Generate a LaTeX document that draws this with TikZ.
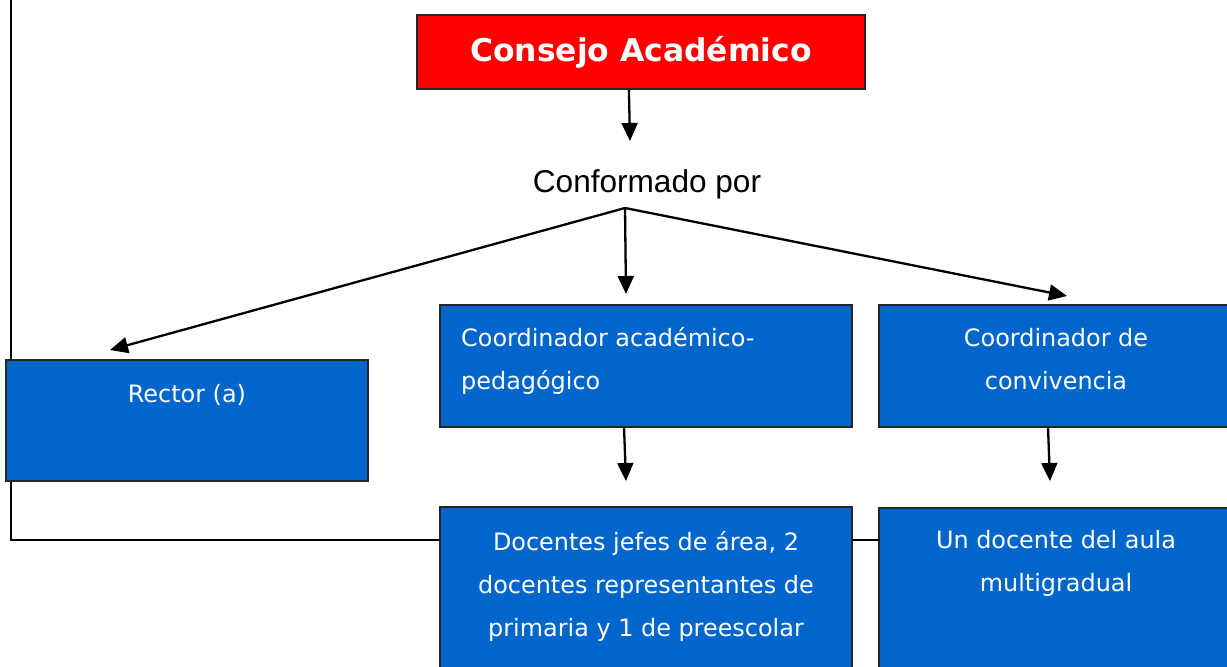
\documentclass[tikz,border=0pt]{standalone}
\usepackage{fontspec}
\setmainfont{DejaVu Sans}
\newfontfamily\arialfont{Liberation Sans}
\usetikzlibrary{arrows.meta}
\definecolor{boxblue}{HTML}{0066CC}
\definecolor{boxred}{HTML}{FF0000}
\begin{document}
\begin{tikzpicture}[x=1bp,y=-1bp,
  ln/.style={line width=2.3bp, draw=black},
  arr/.style={ln, -{Triangle[width=16bp,length=18bp]}},
  box/.style={draw=black!85, line width=1.8bp, fill=boxblue, anchor=north west, inner sep=0pt, outer sep=0pt},
  txt/.style={text=white, font=\fontsize{24}{43}\selectfont, align=center, inner sep=0pt, anchor=base},
  txtl/.style={text=white, font=\fontsize{24}{43}\selectfont, align=left, inner sep=0pt, anchor=base west}]
\clip (0,0) rectangle (1227,667);
\fill[white] (0,0) rectangle (1227,667);
% frame line (behind boxes)
\coordinate (ftop) at (11,-5);
\coordinate (docl) at (440,540);
\draw[ln] (ftop) |- (docl);
% title
\node[draw=black!85, line width=1.8bp, fill=boxred, anchor=north west, minimum width=448bp, minimum height=74bp, inner sep=0pt, text=white, font=\bfseries\fontsize{31.5}{38}\selectfont] (title) at (416,14) {Consejo Académico};
\node[font=\arialfont\fontsize{31.7}{36}\selectfont, anchor=base, inner sep=0pt] (conf) at (647,193) {Conformado por};
\coordinate (t1) at (630,141);
\coordinate (fork) at (625,208);
% boxes
\node[box, minimum width=362bp, minimum height=121bp] (rector) at (6,360) {};
\node[box, minimum width=412bp, minimum height=122bp] (coacad) at (440,305) {};
\node[box, minimum width=360bp, minimum height=122bp] (coconv) at (879,305) {};
\node[box, minimum width=412bp, minimum height=170bp] (doc) at (440,507) {};
\node[box, minimum width=360bp, minimum height=170bp] (undoc) at (879,508) {};
% texts (base anchor = last line's baseline)
\node[txt] (rectort) at (187,402) {Rector (a)};
\node[txtl] (coacadt) at (461,389) {Coordinador académico-\\pedagógico};
\node[txt] (coconvt) at (1056,389) {Coordinador de\\convivencia};
\node[txt] (doct) at (646,636) {Docentes jefes de área, 2\\docentes representantes de\\primaria y 1 de preescolar};
\node[txt] (undoct) at (1056,591) {Un docente del aula\\multigradual};
% arrow tips
\coordinate (tR) at (110,350);
\coordinate (tA) at (626,294);
\coordinate (tC) at (1067,296);
\coordinate (tD) at (626,481);
\coordinate (tU) at (1050,481);
% connectors
\draw[arr] ([xshift=-12bp]title.south) -- (t1);
\draw[arr] (fork) -- (tR);
\draw[arr] (fork) -- (tA);
\draw[arr] (fork) -- (tC);
\draw[arr] ([xshift=-22bp]coacad.south) -- (tD);
\draw[arr] (coconv.south -| 1048,0) -- (tU);
\draw[ln] (doc.east |- 0,540) -- (undoc.west |- 0,540);
\end{tikzpicture}
\end{document}
